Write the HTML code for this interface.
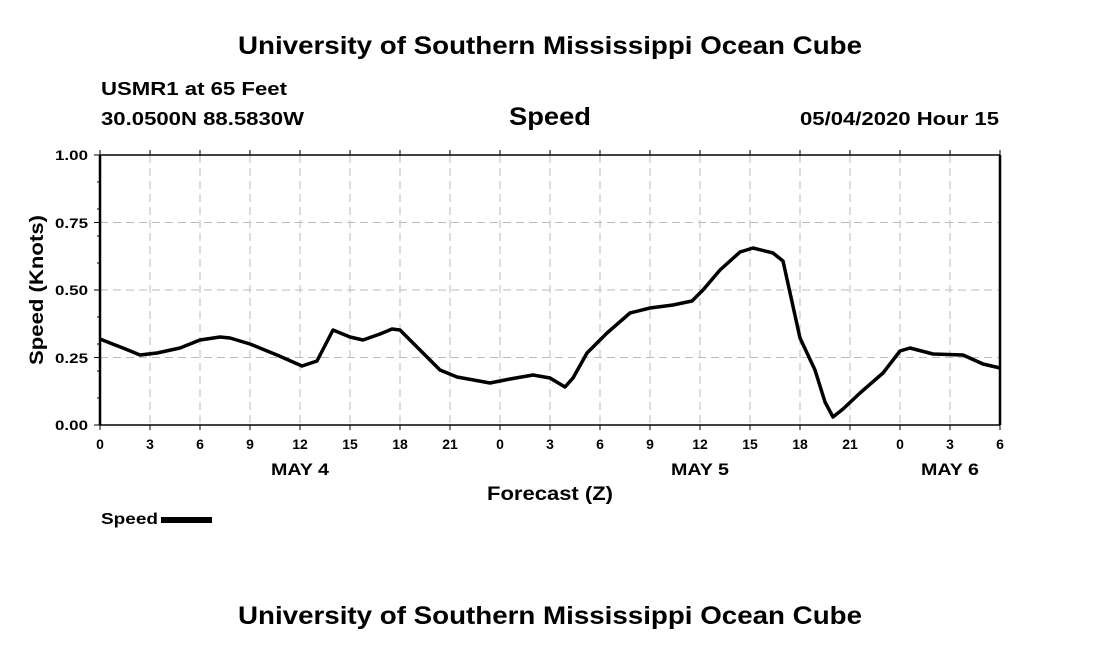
<!DOCTYPE html>
<html><head><style>
body{margin:0;background:#fff;}
svg text{font-family:"Liberation Sans",Arial,sans-serif;font-weight:bold;fill:#000;}
</style></head><body>
<svg width="1100" height="650" viewBox="0 0 1100 650" xmlns="http://www.w3.org/2000/svg">
<rect width="1100" height="650" fill="#fff"/>
<text x="238" y="54" font-size="25" textLength="624" lengthAdjust="spacingAndGlyphs">University of Southern Mississippi Ocean Cube</text>
<text x="101" y="95" font-size="18" textLength="186" lengthAdjust="spacingAndGlyphs">USMR1 at 65 Feet</text>
<text x="101" y="125" font-size="18" textLength="203" lengthAdjust="spacingAndGlyphs">30.0500N 88.5830W</text>
<text x="509" y="125" font-size="25" textLength="82" lengthAdjust="spacingAndGlyphs">Speed</text>
<text x="800" y="125" font-size="18" textLength="199" lengthAdjust="spacingAndGlyphs">05/04/2020 Hour 15</text>
<g stroke="#bbb" stroke-width="1" stroke-dasharray="8,5">
<line x1="100" y1="222.5" x2="1000" y2="222.5"/>
<line x1="100" y1="290" x2="1000" y2="290"/>
<line x1="100" y1="357.5" x2="1000" y2="357.5"/>
<line x1="150" y1="155" x2="150" y2="425"/><line x1="200" y1="155" x2="200" y2="425"/>
<line x1="250" y1="155" x2="250" y2="425"/><line x1="300" y1="155" x2="300" y2="425"/>
<line x1="350" y1="155" x2="350" y2="425"/><line x1="400" y1="155" x2="400" y2="425"/>
<line x1="450" y1="155" x2="450" y2="425"/><line x1="500" y1="155" x2="500" y2="425"/>
<line x1="550" y1="155" x2="550" y2="425"/><line x1="600" y1="155" x2="600" y2="425"/>
<line x1="650" y1="155" x2="650" y2="425"/><line x1="700" y1="155" x2="700" y2="425"/>
<line x1="750" y1="155" x2="750" y2="425"/><line x1="800" y1="155" x2="800" y2="425"/>
<line x1="850" y1="155" x2="850" y2="425"/><line x1="900" y1="155" x2="900" y2="425"/>
<line x1="950" y1="155" x2="950" y2="425"/>
</g>
<g stroke="#000" stroke-width="1.5">
<line x1="100" y1="155" x2="1000" y2="155"/>
<line x1="100" y1="425" x2="1000" y2="425"/>
</g>
<line x1="100" y1="155" x2="100" y2="425" stroke="#000" stroke-width="2.5"/>
<line x1="1000" y1="155" x2="1000" y2="425" stroke="#000" stroke-width="2.5"/>
<g stroke="#000" stroke-width="1">
<path d="M94 155H100M94 222.5H100M94 290H100M94 357.5H100M94 425H100M97 182H100M97 209H100M97 236H100M97 263H100M97 317H100M97 344H100M97 371H100M97 398H100"/>
<path d="M100 150V155M150 150V155M200 150V155M250 150V155M300 150V155M350 150V155M400 150V155M450 150V155M500 150V155M550 150V155M600 150V155M650 150V155M700 150V155M750 150V155M800 150V155M850 150V155M900 150V155M950 150V155M1000 150V155"/>
<path d="M100 425V430M150 425V430M200 425V430M250 425V430M300 425V430M350 425V430M400 425V430M450 425V430M500 425V430M550 425V430M600 425V430M650 425V430M700 425V430M750 425V430M800 425V430M850 425V430M900 425V430M950 425V430M1000 425V430"/>
</g>
<g font-size="14" text-anchor="end">
<text x="88" y="160" textLength="33" lengthAdjust="spacingAndGlyphs">1.00</text><text x="88" y="228" textLength="33" lengthAdjust="spacingAndGlyphs">0.75</text><text x="88" y="295" textLength="33" lengthAdjust="spacingAndGlyphs">0.50</text><text x="88" y="363" textLength="33" lengthAdjust="spacingAndGlyphs">0.25</text><text x="88" y="430" textLength="33" lengthAdjust="spacingAndGlyphs">0.00</text>
</g>
<g font-size="14" text-anchor="middle">
<text x="100" y="449">0</text><text x="150" y="449">3</text><text x="200" y="449">6</text><text x="250" y="449">9</text><text x="300" y="449">12</text><text x="350" y="449">15</text><text x="400" y="449">18</text><text x="450" y="449">21</text><text x="500" y="449">0</text><text x="550" y="449">3</text><text x="600" y="449">6</text><text x="650" y="449">9</text><text x="700" y="449">12</text><text x="750" y="449">15</text><text x="800" y="449">18</text><text x="850" y="449">21</text><text x="900" y="449">0</text><text x="950" y="449">3</text><text x="1000" y="449">6</text>
</g>
<g font-size="17">
<text x="271" y="475" textLength="58" lengthAdjust="spacingAndGlyphs">MAY 4</text>
<text x="671" y="475" textLength="58" lengthAdjust="spacingAndGlyphs">MAY 5</text>
<text x="921" y="475" textLength="58" lengthAdjust="spacingAndGlyphs">MAY 6</text>
<text x="487" y="500" font-size="19" textLength="126" lengthAdjust="spacingAndGlyphs">Forecast (Z)</text>
</g>
<text transform="translate(43,365) rotate(-90)" font-size="19" textLength="150" lengthAdjust="spacingAndGlyphs">Speed (Knots)</text>
<text x="101" y="524" font-size="16" textLength="57" lengthAdjust="spacingAndGlyphs">Speed</text>
<rect x="161" y="517" width="51" height="6" fill="#000"/>
<polyline fill="none" stroke="#000" stroke-width="3.5" stroke-linejoin="round" points="100,339 110,343 123,348 140,355 157,353 180,348 200,340 220,337 230,338 250,344 277,355 302,366 317,361 333,330 350,337 363,340 380,334 392,329 400,330 423,353 440,370 457,377 490,383 510,379 533,375 550,378 565,387 573,378 587,353 607,333 630,313 650,308 673,305 692,301 703,290 720,270 740,252 753,248 773,253 783,261 800,338 815,370 825,402 833,417 843,409 860,393 883,373 900,351 910,348 933,354 963,355 983,364 1000,368"/>
<text x="238" y="624" font-size="25" textLength="624" lengthAdjust="spacingAndGlyphs">University of Southern Mississippi Ocean Cube</text>
</svg>
</body></html>
